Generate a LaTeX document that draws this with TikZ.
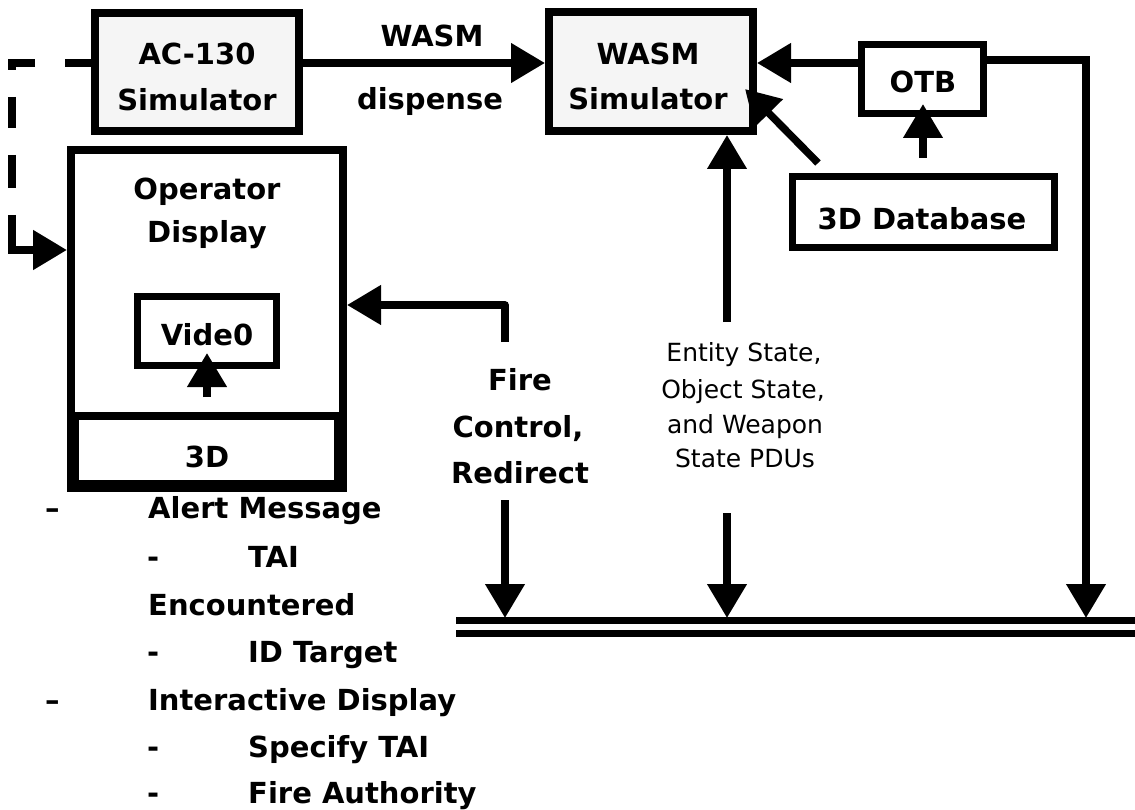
\documentclass[tikz,border=0pt]{standalone}
\usepackage{fontspec}
\setmainfont{DejaVu Sans}
\usetikzlibrary{arrows.meta}
\begin{document}
\begin{tikzpicture}[x=1pt,y=-1pt,
  box/.style={draw=black, line width=8pt, fill=white, inner sep=0pt},
  sbox/.style={draw=black, line width=7pt, fill=white, inner sep=0pt},
  lbl/.style={anchor=base, inner sep=0pt, font=\fontsize{29}{29}\selectfont\bfseries},
  slbl/.style={anchor=base, inner sep=0pt, font=\fontsize{25}{25}\selectfont},
  lst/.style={anchor=base west, inner sep=0pt, font=\fontsize{29}{29}\selectfont\bfseries},
  arr/.style={line width=7.5pt, -{Triangle[length=34pt,width=38pt]}},
  busline/.style={line width=6.5pt}]
\useasboundingbox (0,0) rectangle (1135,810);
\fill[white] (0,0) rectangle (1135,810);

% boxes
\node[box, fill=black!4, minimum width=204pt, minimum height=118pt] (ac) at (197,72) {};
\node[box, fill=black!4, minimum width=204pt, minimum height=119pt] (wasm) at (651,71.5) {};
\node[sbox, minimum width=122pt, minimum height=69pt] (otb) at (922.5,79) {};
\node[sbox, minimum width=262pt, minimum height=71pt] (db) at (923.5,212) {};
\node[box, minimum width=272pt, minimum height=338pt] (opd) at (207,319) {};
\node[box, minimum width=263pt, minimum height=68pt] (td) at (206.5,450) {};
\node[sbox, minimum width=139pt, minimum height=68pt] (vid) at (206.5,331) {};

% labels
\node[lbl] (acA) at (197,65) {AC-130};
\node[lbl] (acB) at (197,111) {Simulator};
\node[lbl] (wl1) at (432,47) {WASM};
\node[lbl] (wl2) at (430,110) {dispense};
\node[lbl] (wsA) at (648,65) {WASM};
\node[lbl] (wsB) at (648,110) {Simulator};
\node[lbl] (otbT) at (923,93) {OTB};
\node[lbl] (dbT) at (922,230) {3D Database};
\node[lbl] (opA) at (207,200) {Operator};
\node[lbl] (opB) at (207,243) {Display};
\node[lbl] (vidT) at (207,345) {Vide0};
\node[lbl] (tdT) at (207,467) {3D};
\node[lbl] (fc1) at (520,390) {Fire};
\node[lbl] (fc2) at (518,437) {Control,};
\node[lbl] (fc3) at (520,483) {Redirect};
\node[slbl] (es1) at (744,361) {Entity State,};
\node[slbl] (es2) at (743,398) {Object State,};
\node[slbl] (es3) at (745,433) {and Weapon};
\node[slbl] (es4) at (745,467) {State PDUs};

% list
\node[lst] (d1) at (45,518) {\textendash};
\node[lst] (t1) at (148,518) {Alert Message};
\node[lst] (d2) at (147,567) {-};
\node[lst] (t2) at (248,567) {TAI};
\node[lst] (t3) at (148,615) {Encountered};
\node[lst] (d4) at (147,662) {-};
\node[lst] (t4) at (248,662) {ID Target};
\node[lst] (d5) at (45,710) {\textendash};
\node[lst] (t5) at (148,710) {Interactive Display};
\node[lst] (d6) at (147,757) {-};
\node[lst] (t6) at (248,757) {Specify TAI};
\node[lst] (d7) at (147,803) {-};
\node[lst] (t7) at (248,803) {Fire Authority};

% helper coordinates
\coordinate (r63) at (0,63);
\coordinate (r60) at (0,60);
\coordinate (r250) at (0,250);
\coordinate (r305) at (0,305);
\coordinate (dk1) at (12,63);
\coordinate (dk2) at (12,250);
\coordinate (fcS) at (505,342);
\coordinate (fcK) at (505,305);
\coordinate (fcD) at (505,500);
\coordinate (busF) at (505,618);
\coordinate (esU) at (727,322);
\coordinate (esD) at (727,513);
\coordinate (busE) at (727,618);
\coordinate (otbC) at (1086,60);
\coordinate (busO) at (1086,618);
\coordinate (dgS) at (818,163);
\coordinate (dgE) at (745,89);
\coordinate (dbN) at (923,158);
\coordinate (otbIn) at (923,104);
\coordinate (vS) at (207,397);
\coordinate (vE) at (207,353);
\coordinate (b1L) at (456,620.5);
\coordinate (b1R) at (1135,620.5);
\coordinate (b2L) at (456,633.5);
\coordinate (b2R) at (1135,633.5);

% connectors
\draw[arr] (ac.east |- r63) -- (wasm.west |- r63);
\draw[arr] (otb.west |- r63) -- (wasm.east |- r63);
\draw[arr, line width=8pt, dash pattern=on 26pt off 30pt on 30pt off 27pt on 31pt off 27pt on 33pt off 27pt on 90pt off 1pt]
  (ac.west |- r63) -- (dk1) -- (dk2) -- (opd.west |- r250);
\draw[arr, line join=round] (fcS) -- (fcK) -- (opd.east |- r305);
\draw[arr] (fcD) -- (busF);
\draw[arr] (esU) -- (esU |- wasm.south);
\draw[arr] (esD) -- (busE);
\draw[arr] (otb.east |- r60) -- (otbC) -- (busO);
\draw[arr] (dgS) -- (dgE);
\draw[arr] (dbN) -- (otbIn);
\draw[arr] (vS) -- (vE);

% bus
\draw[busline] (b1L) -- (b1R);
\draw[busline] (b2L) -- (b2R);
\end{tikzpicture}
\end{document}
